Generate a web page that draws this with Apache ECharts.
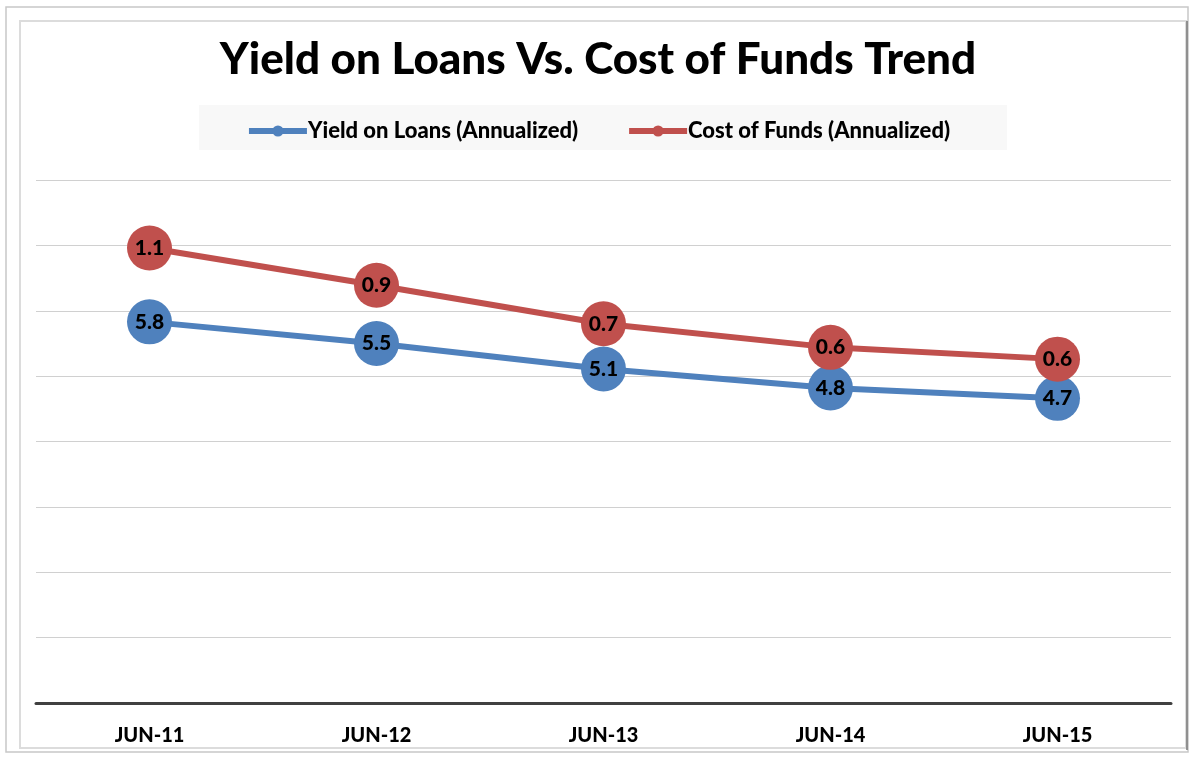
<!DOCTYPE html>
<html>
<head>
<meta charset="utf-8">
<script src="https://cdn.jsdelivr.net/npm/echarts@6/dist/echarts.min.js"></script>
<style>
  html, body { margin: 0; padding: 0; background: #fff; }
  #chart { width: 1196px; height: 761px; }
</style>
</head>
<body>
<div id="chart"></div>
<script>
// categories and series values (cost of funds is stacked on top of yield, as in the original)
var periods = ["JUN-11", "JUN-12", "JUN-13", "JUN-14", "JUN-15"];
var yieldOnLoans = [5.83, 5.5, 5.11, 4.82, 4.66];
var costOfFunds = [1.13, 0.89, 0.69, 0.62, 0.6];

var fontFamily = "Lato, 'Open Sans', sans-serif";
var chart = echarts.init(document.getElementById("chart"));

chart.setOption({
  backgroundColor: "#fff",
  animation: false,
  title: {
    text: "Yield on Loans Vs. Cost of Funds Trend",
    left: "center",
    top: 33,
    textStyle: { fontFamily: fontFamily, fontWeight: 900, fontSize: 44, color: "#000" }
  },
  graphic: [
    // outer frame
    { type: "rect", shape: { x: 6, y: 7, width: 1182, height: 745 },
      style: { fill: "none", stroke: "#c8c8c8", lineWidth: 1.5 }, z: -1 },
    { type: "rect", shape: { x: 20, y: 21, width: 1166, height: 727 },
      style: { fill: "none", stroke: "#dcdcdc", lineWidth: 2 }, z: -1 },
    { type: "line", shape: { x1: 1187, y1: 21, x2: 1187, y2: 750 },
      style: { stroke: "#777", lineWidth: 1.5 }, z: -1 },
    // legend background
    { type: "rect", shape: { x: 199, y: 105, width: 808, height: 45 },
      style: { fill: "#f8f8f8" }, z: -1 }
  ],
  legend: {
    top: 115,
    left: "center",
    itemGap: 48,
    itemWidth: 58,
    itemHeight: 14,
    lineStyle: { width: 6 },
    textStyle: { fontFamily: fontFamily, fontWeight: 900, fontSize: 22, color: "#000", padding: [0, 0, 0, -4] },
    data: ["Yield on Loans (Annualized)", "Cost of Funds (Annualized)"]
  },
  grid: { left: 36, right: 25, top: 180, bottom: 58 },
  xAxis: {
    type: "category",
    data: periods,
    boundaryGap: true,
    axisLine: { lineStyle: { color: "#404040", width: 3 } },
    axisTick: { show: false },
    axisLabel: { margin: 23, fontFamily: fontFamily, fontWeight: 900, fontSize: 20, color: "#000" }
  },
  yAxis: {
    type: "value",
    min: 0,
    max: 8,
    interval: 1,
    axisLine: { show: false },
    axisTick: { show: false },
    axisLabel: { show: false },
    splitLine: { lineStyle: { color: "#d0d0d0", width: 1.2 } }
  },
  series: [
    {
      name: "Yield on Loans (Annualized)",
      type: "line",
      stack: "total",
      data: yieldOnLoans,
      symbol: "circle",
      symbolSize: 45,
      itemStyle: { color: "#4f81bd" },
      lineStyle: { color: "#4f81bd", width: 6 },
      label: {
        show: true, position: "inside",
        fontFamily: fontFamily, fontWeight: 900, fontSize: 21, color: "#000",
        formatter: function (p) { return p.value.toFixed(1); }
      }
    },
    {
      name: "Cost of Funds (Annualized)",
      type: "line",
      stack: "total",
      data: costOfFunds,
      symbol: "circle",
      symbolSize: 45,
      itemStyle: { color: "#c0504d" },
      lineStyle: { color: "#c0504d", width: 6 },
      label: {
        show: true, position: "inside",
        fontFamily: fontFamily, fontWeight: 900, fontSize: 21, color: "#000",
        formatter: function (p) { return p.value.toFixed(1); }
      }
    }
  ]
});
</script>
</body>
</html>
